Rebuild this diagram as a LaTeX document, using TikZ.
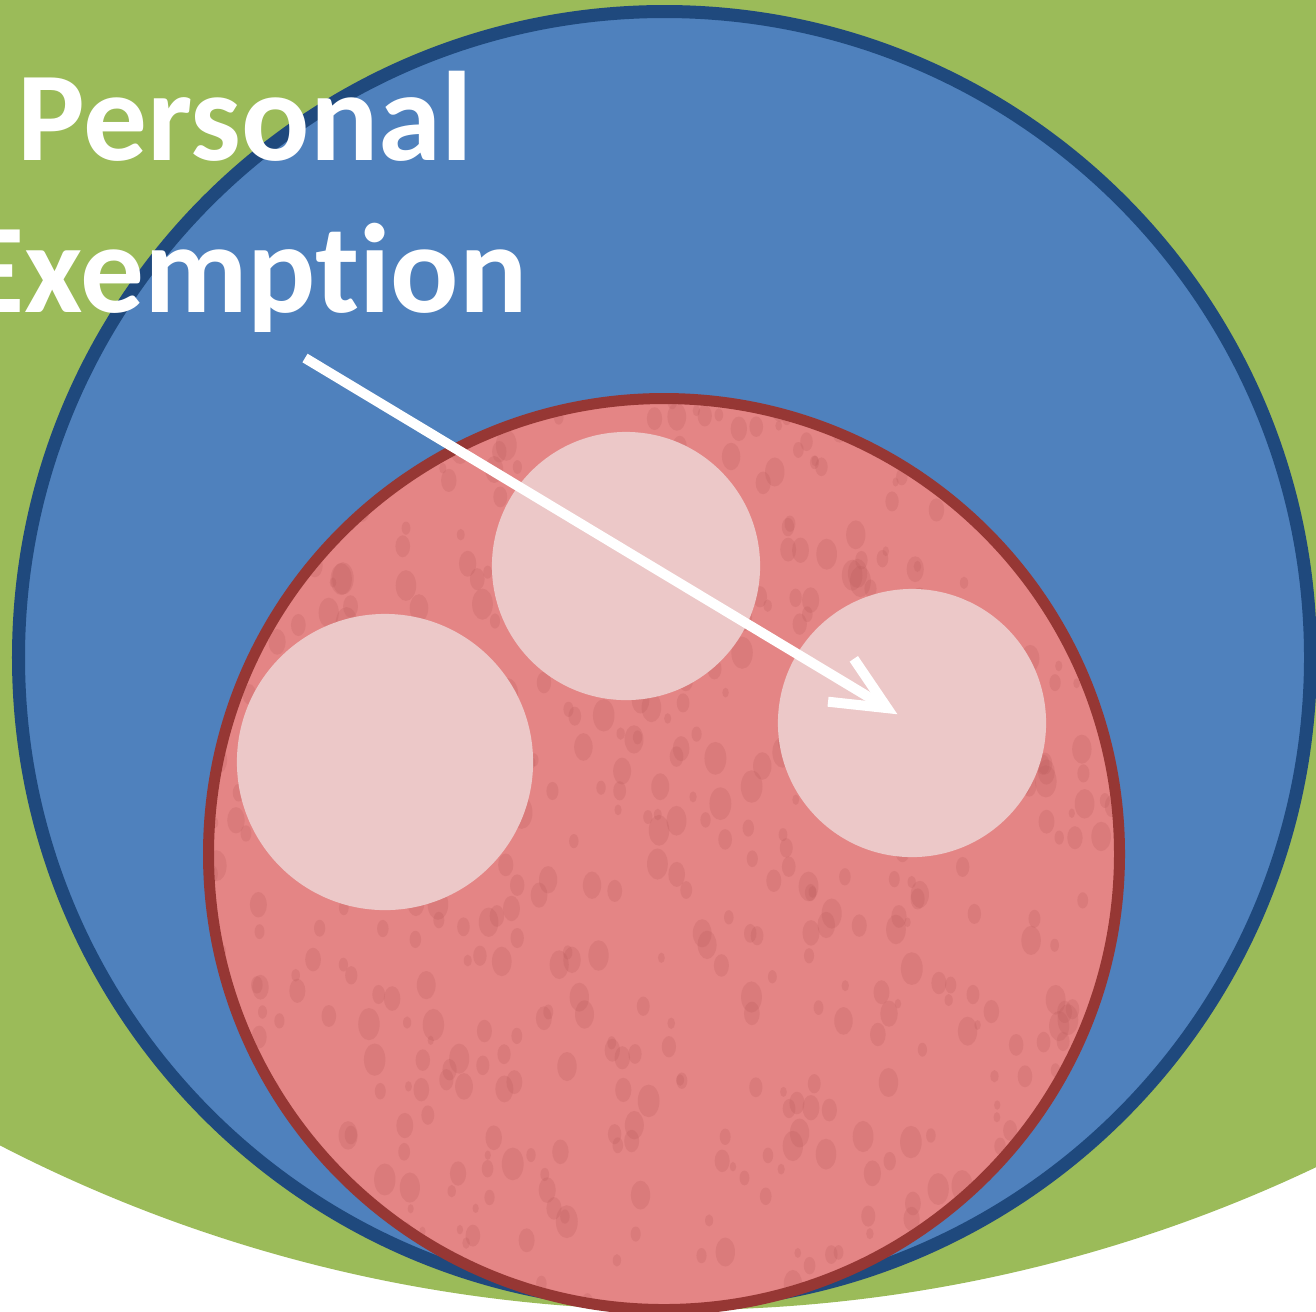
\documentclass[tikz,border=0pt]{standalone}
\usepackage{fontspec}
\newfontfamily\labelfont{Carlito}[Ligatures={NoCommon}]
\usetikzlibrary{arrows.meta}

\definecolor{setgreen}{RGB}{155,187,89}
\definecolor{setblue}{RGB}{79,129,189}
\definecolor{setblueedge}{RGB}{31,73,125}
\definecolor{setred}{RGB}{228,133,133}
\definecolor{setrededge}{RGB}{150,55,52}
\definecolor{dropshade}{RGB}{190,95,95}
\definecolor{palepink}{RGB}{236,200,200}

\begin{document}
\begin{tikzpicture}[
    x=0.01cm, y=-0.01cm,
    every node/.style={font=\labelfont\bfseries\fontsize{36.2}{43}\selectfont, text=white, inner sep=0pt},
    pale/.style={circle, fill=palepink, inner sep=0pt},
    >={Straight Barb[length=5.4mm, width=5mm]}
]

% Frame
\useasboundingbox (0,0) rectangle (1316,1311);
\clip (0,0) rectangle (1316,1311);
\fill[white] (0,0) rectangle (1316,1311);

% === Outer set (green) ===
\fill[setgreen] (680,-174) circle (1484);

% === Middle set (blue) ===
\filldraw[fill=setblue, draw=setblueedge, line width=0.13cm]
    (664.5,657.5) circle (646);

% === Inner set (red, drop texture) ===
\fill[setred] (664,854) circle (455.5);
\begin{scope}
    \clip (664,854) circle (450);
    \pgfmathsetseed{11}
    \foreach \i in {1,...,650} {
        \pgfmathsetmacro{\dx}{204 + 920*rnd}
        \pgfmathsetmacro{\dy}{394 + 920*rnd}
        \pgfmathsetmacro{\dr}{3 + 8*rnd}
        \fill[dropshade, opacity=0.25] (\dx,\dy) ellipse ({\dr} and {1.5*\dr});
    }
\end{scope}
\draw[setrededge, line width=0.11cm] (664,854) circle (455.5);

% === Pale circles ===
\node[pale, minimum size=2.96cm] (leftblob) at (385,762) {};
\node[pale, minimum size=2.68cm] (topblob) at (626,566) {};
\node[pale, minimum size=2.68cm] (rightblob) at (912,723) {};

% === Label ===
\node[anchor=base] (personal) at (245,160) {Personal};
\node[anchor=base] (exemption) at (245,312) {Exemption};

% === Arrow ===
\coordinate (tail) at (305,358);
\draw[->, white, line width=0.1cm, shorten >=0.17cm] (tail) -- (rightblob.center);

\end{tikzpicture}
\end{document}
